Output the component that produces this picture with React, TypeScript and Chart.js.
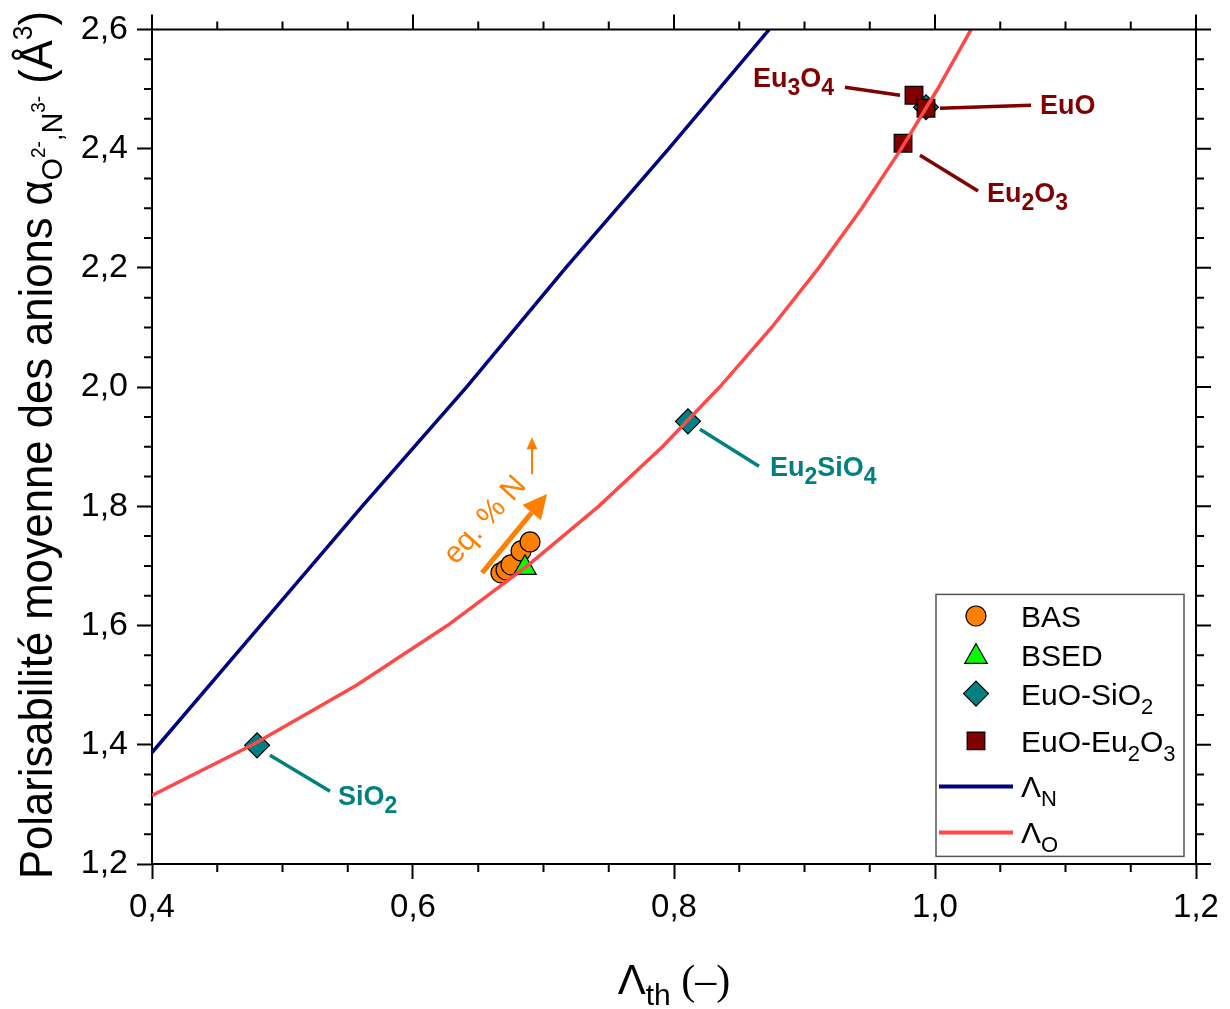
import React, { useEffect, useRef } from 'react';
import { Chart, registerables } from 'chart.js';

Chart.register(...registerables);

// ---------------- data ----------------
const lambdaNX = [0.4, 0.483, 0.561, 0.641, 0.717, 0.796, 0.873];
const lambdaNY = [1.387, 1.6, 1.8, 2.0, 2.2, 2.4, 2.6];

const lambdaOX = [0.4, 0.4771, 0.5567, 0.6263, 0.6876, 0.7422, 0.7911, 0.835, 0.8748, 0.9109, 0.9439, 0.9742, 1.002, 1.0277];
const lambdaOY = [1.315, 1.4, 1.5, 1.6, 1.7, 1.8, 1.9, 2.0, 2.1, 2.2, 2.3, 2.4, 2.5, 2.6];

const basX = [0.6674, 0.6713, 0.6751, 0.6828, 0.6897];
const basY = [1.6884, 1.6934, 1.7018, 1.7252, 1.7402];

const bsedX = [0.6858];
const bsedY = [1.6967];

const euoSiO2X = [0.4805, 0.8107, 0.9931];
const euoSiO2Y = [1.399, 1.9425, 2.4694];

const euoEu2O3X = [0.9839, 0.9931, 0.9755];
const euoEu2O3Y = [2.4895, 2.4678, 2.409];

const xTickValues = [0.4, 0.6, 0.8, 1.0, 1.2];
const xTickLabels = ['0,4', '0,6', '0,8', '1,0', '1,2'];
const yTickValues = [1.2, 1.4, 1.6, 1.8, 2.0, 2.2, 2.4, 2.6];
const yTickLabels = ['1,2', '1,4', '1,6', '1,8', '2,0', '2,2', '2,4', '2,6'];

// ---------------- styles ----------------
const SANS = '"Liberation Sans", Arial, sans-serif';
const SERIF = '"Liberation Serif", "Times New Roman", serif';
const ORANGE = '#ff8000';
const GREEN = '#00ff00';
const TEAL = '#008080';
const MAROON = '#800000';
const NAVY = '#000080';
const RED = '#ff4848';

type Seg = { t: string; size: number; dy?: number; bold?: boolean; serif?: boolean };

const segFont = (s: Seg) => `${s.bold ? 'bold ' : ''}${s.size}px ${s.serif ? SERIF : SANS}`;

function richWidth(ctx: CanvasRenderingContext2D, segs: Seg[]) {
  let w = 0;
  for (const s of segs) {
    ctx.font = segFont(s);
    w += ctx.measureText(s.t).width;
  }
  return w;
}

function drawRich(ctx: CanvasRenderingContext2D, segs: Seg[], x: number, y: number, align: 'left' | 'center' = 'left') {
  let cx = align === 'center' ? x - richWidth(ctx, segs) / 2 : x;
  ctx.textAlign = 'left';
  ctx.textBaseline = 'alphabetic';
  for (const s of segs) {
    ctx.font = segFont(s);
    ctx.fillText(s.t, cx, y + (s.dy ?? 0));
    cx += ctx.measureText(s.t).width;
  }
}

// annotation labels (data coordinates)
const bold = (t: string, sub = false): Seg => (sub ? { t, size: 23, dy: 8, bold: true } : { t, size: 27, bold: true });
const annotations = [
  { segs: [bold('Eu'), bold('3', true), bold('O'), bold('4', true)], color: MAROON, at: [0.8605, 2.5028], from: [0.931, 2.503], to: [0.9732, 2.4895] },
  { segs: [bold('EuO')], color: MAROON, at: [1.0805, 2.4577], from: [1.0038, 2.4678], to: [1.0736, 2.4728] },
  { segs: [bold('Eu'), bold('2', true), bold('O'), bold('3', true)], color: MAROON, at: [1.0398, 2.3106], from: [0.9885, 2.389], to: [1.033, 2.329] },
  { segs: [bold('Eu'), bold('2', true), bold('SiO'), bold('4', true)], color: TEAL, at: [0.8736, 1.8506], from: [0.8199, 1.9292], to: [0.8651, 1.8673] },
  { segs: [bold('SiO'), bold('2', true)], color: TEAL, at: [0.5425, 1.2987], from: [0.4904, 1.3823], to: [0.5364, 1.3221] },
];

function drawMarker(ctx: CanvasRenderingContext2D, style: string, x: number, y: number, r: number, fill: string) {
  ctx.beginPath();
  if (style === 'circle') {
    ctx.arc(x, y, r, 0, Math.PI * 2);
  } else if (style === 'triangle') {
    let rad = 0;
    ctx.moveTo(x + Math.sin(rad) * r, y - Math.cos(rad) * r);
    rad += (2 * Math.PI) / 3;
    ctx.lineTo(x + Math.sin(rad) * r, y - Math.cos(rad) * r);
    rad += (2 * Math.PI) / 3;
    ctx.lineTo(x + Math.sin(rad) * r, y - Math.cos(rad) * r);
    ctx.closePath();
  } else if (style === 'rectRot') {
    ctx.moveTo(x - r, y);
    ctx.lineTo(x, y - r);
    ctx.lineTo(x + r, y);
    ctx.lineTo(x, y + r);
    ctx.closePath();
  } else {
    const s = r * Math.SQRT1_2;
    ctx.rect(x - s, y - s, 2 * s, 2 * s);
  }
  ctx.fillStyle = fill;
  ctx.fill();
  ctx.lineWidth = 1.2;
  ctx.strokeStyle = '#000';
  ctx.stroke();
}

function arrowHead(ctx: CanvasRenderingContext2D, x1: number, y1: number, x2: number, y2: number, len: number, half: number) {
  const a = Math.atan2(y2 - y1, x2 - x1);
  const bx = x2 - Math.cos(a) * len;
  const by = y2 - Math.sin(a) * len;
  ctx.beginPath();
  ctx.moveTo(x2, y2);
  ctx.lineTo(bx + Math.sin(a) * half, by - Math.cos(a) * half);
  ctx.lineTo(bx - Math.sin(a) * half, by + Math.cos(a) * half);
  ctx.closePath();
  ctx.fill();
  return [bx, by];
}

const decorPlugin = {
  id: 'decor',
  afterDraw(chart: any) {
    const { ctx, chartArea: a, scales } = chart;
    const xs = scales.x;
    const ys = scales.y;
    const px = (v: number) => xs.getPixelForValue(v);
    const py = (v: number) => ys.getPixelForValue(v);
    ctx.save();

    // frame top/right
    ctx.strokeStyle = '#000';
    ctx.lineWidth = 2;
    ctx.beginPath();
    ctx.moveTo(a.left, a.top);
    ctx.lineTo(a.right, a.top);
    ctx.lineTo(a.right, a.bottom);
    ctx.stroke();

    // ticks on top/right (major + minor) and minor on left/bottom
    ctx.beginPath();
    for (let i = 0; i <= 16; i++) {
      const v = 0.4 + i * 0.05;
      const p = px(v);
      const major = i % 4 === 0;
      const L = major ? 15 : 8;
      ctx.moveTo(p, a.top);
      ctx.lineTo(p, a.top - L);
      if (!major) {
        ctx.moveTo(p, a.bottom);
        ctx.lineTo(p, a.bottom + L);
      }
    }
    for (let i = 0; i <= 28; i++) {
      const v = 1.2 + i * 0.05;
      const p = py(v);
      const major = i % 4 === 0;
      const L = major ? 15 : 8;
      ctx.moveTo(a.right, p);
      ctx.lineTo(a.right + L, p);
      if (!major) {
        ctx.moveTo(a.left, p);
        ctx.lineTo(a.left - L, p);
      }
    }
    ctx.stroke();

    // annotations with leader lines
    for (const an of annotations) {
      ctx.strokeStyle = an.color;
      ctx.fillStyle = an.color;
      ctx.lineWidth = 3.5;
      ctx.beginPath();
      ctx.moveTo(px(an.from[0]), py(an.from[1]));
      ctx.lineTo(px(an.to[0]), py(an.to[1]));
      ctx.stroke();
      drawRich(ctx, an.segs, px(an.at[0]), py(an.at[1]));
    }

    // orange trend arrow
    ctx.strokeStyle = ORANGE;
    ctx.fillStyle = ORANGE;
    {
      const x1 = px(0.6529), y1 = py(1.6884), x2 = px(0.7027), y2 = py(1.8205);
      const [bx, by] = arrowHead(ctx, x1, y1, x2, y2, 24, 12);
      ctx.lineWidth = 5;
      ctx.beginPath();
      ctx.moveTo(x1, y1);
      ctx.lineTo(bx, by);
      ctx.stroke();
    }
    {
      const x1 = px(0.6912), y1 = py(1.854), x2 = px(0.6912), y2 = py(1.916);
      const [bx, by] = arrowHead(ctx, x1, y1, x2, y2, 12, 5.5);
      ctx.lineWidth = 2;
      ctx.beginPath();
      ctx.moveTo(x1, y1);
      ctx.lineTo(bx, by);
      ctx.stroke();
    }
    ctx.save();
    ctx.translate(px(0.6555), py(1.7765));
    ctx.rotate((-48 * Math.PI) / 180);
    ctx.font = `30px ${SANS}`;
    ctx.textAlign = 'center';
    ctx.textBaseline = 'middle';
    ctx.fillText('eq. % N', 0, 0);
    ctx.restore();

    // legend
    const lx = a.right - 260, ly = a.top + 565;
    const lw = 248, lh = 262;
    ctx.lineWidth = 1.5;
    ctx.strokeStyle = '#555';
    ctx.strokeRect(lx, ly, lw, lh);
    const symX = lx + 40;
    const txtX = lx + 85;
    const rows = [21.6, 60.4, 99.2, 146.5, 192, 238];
    ctx.fillStyle = '#000';
    drawMarker(ctx, 'circle', symX, ly + rows[0], 10, ORANGE);
    drawMarker(ctx, 'triangle', symX, ly + rows[1] + 2, 13, GREEN);
    drawMarker(ctx, 'rectRot', symX, ly + rows[2], 12.5, TEAL);
    drawMarker(ctx, 'rect', symX, ly + rows[3], 12.5, MAROON);
    ctx.lineWidth = 4;
    ctx.strokeStyle = NAVY;
    ctx.beginPath();
    ctx.moveTo(lx + 3, ly + rows[4]);
    ctx.lineTo(lx + 77, ly + rows[4]);
    ctx.stroke();
    ctx.strokeStyle = RED;
    ctx.beginPath();
    ctx.moveTo(lx + 3, ly + rows[5]);
    ctx.lineTo(lx + 77, ly + rows[5]);
    ctx.stroke();
    ctx.fillStyle = '#000';
    const N = (t: string): Seg => ({ t, size: 30 });
    const S = (t: string): Seg => ({ t, size: 22, dy: 9 });
    const legendTexts: Seg[][] = [
      [N('BAS')],
      [N('BSED')],
      [N('EuO-SiO'), S('2')],
      [N('EuO-Eu'), S('2'), N('O'), S('3')],
      [N('Λ'), S('N')],
      [N('Λ'), S('O')],
    ];
    legendTexts.forEach((segs, i) => drawRich(ctx, segs, txtX, ly + rows[i] + 11));

    // x title
    ctx.fillStyle = '#000';
    drawRich(
      ctx,
      [
        { t: 'Λ', size: 42 },
        { t: 'th', size: 30, dy: 11 },
        { t: ' (–)', size: 42, serif: true },
      ],
      (a.left + a.right) / 2,
      994,
      'center'
    );

    // y title (condensed to fit the plot height)
    const ySegs: Seg[] = [
      { t: 'Polarisabilité moyenne des anions α', size: 46 },
      { t: 'O', size: 30, dy: 10 },
      { t: '2-', size: 20, dy: -7 },
      { t: ',N', size: 30, dy: 10 },
      { t: '3-', size: 20, dy: -7 },
      { t: ' (Å', size: 46 },
      { t: '3', size: 28, dy: -20 },
      { t: ')', size: 46 },
    ];
    const w = richWidth(ctx, ySegs);
    const k = Math.min(1, 868 / w);
    ctx.save();
    ctx.translate(52, 445);
    ctx.rotate(-Math.PI / 2);
    ctx.scale(k, 1);
    drawRich(ctx, ySegs, 0, 0, 'center');
    ctx.restore();

    ctx.restore();
  },
};

const pts = (xs: number[], ys: number[]) => xs.map((x, i) => ({ x, y: ys[i] }));

export default function App() {
  const ref = useRef<HTMLCanvasElement>(null);
  useEffect(() => {
    const canvas = ref.current!;
    const tickFont = { family: SANS, size: 33 };
    const chart = new Chart(canvas, {
      type: 'scatter',
      data: {
        datasets: [
          { label: 'ΛN', data: pts(lambdaNX, lambdaNY), showLine: true, borderColor: NAVY, borderWidth: 3.5, pointRadius: 0, order: 0 },
          { label: 'ΛO', data: pts(lambdaOX, lambdaOY), showLine: true, borderColor: RED, borderWidth: 3.5, pointRadius: 0, order: 0 },
          { label: 'EuO-Eu2O3', data: pts(euoEu2O3X, euoEu2O3Y), pointStyle: 'rect', pointRadius: 12.5, backgroundColor: MAROON, borderColor: '#000', borderWidth: 1.2, order: 1 },
          { label: 'EuO-SiO2', data: pts(euoSiO2X, euoSiO2Y), pointStyle: 'rectRot', pointRadius: 12.5, backgroundColor: TEAL, borderColor: '#000', borderWidth: 1.2, order: 2 },
          { label: 'BSED', data: pts(bsedX, bsedY), pointStyle: 'triangle', pointRadius: 13, backgroundColor: GREEN, borderColor: '#000', borderWidth: 1.2, order: 3 },
          { label: 'BAS', data: pts(basX, basY), pointStyle: 'circle', pointRadius: 10, backgroundColor: ORANGE, borderColor: '#000', borderWidth: 1.2, order: 4 },
        ] as any,
      },
      options: {
        responsive: false,
        devicePixelRatio: 1,
        animation: false,
        events: [],
        layout: { padding: { top: 27, right: 34, left: 0, bottom: 0 } },
        plugins: { legend: { display: false }, tooltip: { enabled: false } },
        scales: {
          x: {
            type: 'linear',
            min: 0.4,
            max: 1.2,
            afterBuildTicks: (s: any) => {
              s.ticks = xTickValues.map((value) => ({ value }));
            },
            afterFit: (s: any) => {
              s.height = 145;
            },
            ticks: {
              font: tickFont,
              color: '#000',
              padding: 9,
              maxRotation: 0,
              autoSkip: false,
              callback: (_v: any, i: number) => xTickLabels[i],
            },
            grid: { display: true, drawOnChartArea: false, drawTicks: true, tickLength: 15, tickWidth: 2, tickColor: '#000' },
            border: { display: true, color: '#000', width: 2 },
          },
          y: {
            type: 'linear',
            min: 1.2,
            max: 2.6,
            afterBuildTicks: (s: any) => {
              s.ticks = yTickValues.map((value) => ({ value }));
            },
            afterFit: (s: any) => {
              s.width = 152;
            },
            ticks: {
              font: { family: SANS, size: 34 },
              color: '#000',
              padding: 9,
              autoSkip: false,
              callback: (_v: any, i: number) => yTickLabels[i],
            },
            grid: { display: true, drawOnChartArea: false, drawTicks: true, tickLength: 15, tickWidth: 2, tickColor: '#000' },
            border: { display: true, color: '#000', width: 2 },
          },
        },
      } as any,
      plugins: [decorPlugin],
    });
    return () => chart.destroy();
  }, []);
  return (
    <div style={{ position: 'absolute', left: 0, top: 0, width: 1230, height: 1009, background: '#fff' }}>
      <canvas ref={ref} width={1230} height={1009} style={{ display: 'block', width: 1230, height: 1009 }} />
    </div>
  );
}
